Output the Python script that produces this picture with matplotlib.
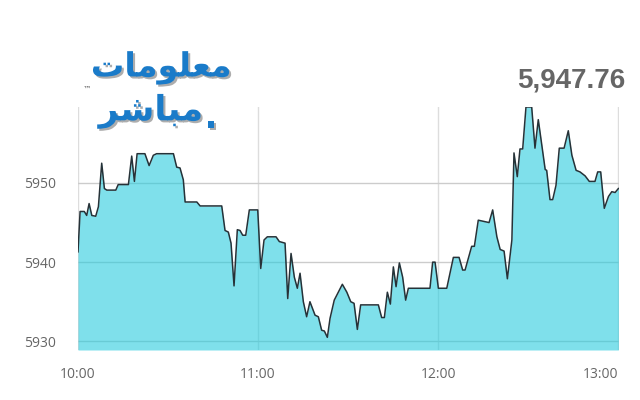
import matplotlib
matplotlib.use("Agg")
import matplotlib.pyplot as plt
import matplotlib.patheffects as pe

# minutes after 10:00
minutes = [0, 0.7, 2.1, 2.9, 3.7, 4.6, 5.9, 6.8, 7.9, 8.8, 9.6, 12.6, 13.4, 16.8,
           17.9, 18.8, 19.7, 22.3, 23.7, 25.1, 26.2, 31.8, 32.9, 34, 35.1, 35.7,
           39.6, 40.7, 47.9, 49, 50.1, 51, 52, 53.1, 54, 54.9, 55.9, 57.1, 59.9,
           60.9, 62, 63.1, 66, 67.1, 69, 69.9, 71, 72.1, 73.1, 74, 75.1, 76.2,
           77.3, 79, 80.1, 81.2, 82.1, 83.1, 84, 85.4, 88.1, 89.6, 90.9, 92,
           93.1, 94.2, 100.1, 101.2, 102.1, 103.1, 104.1, 105.1, 106, 107.1,
           108.2, 109.2, 110.1, 117.3, 118.2, 119, 120.1, 122.9, 125.1, 127,
           128.2, 129, 131.2, 132.1, 133.4, 134.6, 137, 138.2, 139.6, 140.7,
           142, 143.1, 144.6, 145.3, 146.4, 147.3, 148.2, 149.3, 151.2, 152.3,
           153.4, 155.7, 156.2, 157.3, 158.2, 159.3, 160.4, 162, 163.4, 164.6,
           166, 167.3, 169, 170.4, 172.3, 173.2, 174.2, 175.4, 176.8, 177.9,
           179, 180.1]
values = [5941.3, 5946.4, 5946.4, 5945.9, 5947.4, 5945.9, 5945.8, 5947.0, 5952.5,
          5949.3, 5949.1, 5949.1, 5949.8, 5949.8, 5953.4, 5950.2, 5953.7, 5953.7,
          5952.2, 5953.5, 5953.7, 5953.7, 5952.0, 5951.9, 5950.4, 5947.6, 5947.6,
          5947.1, 5947.1, 5944.0, 5943.8, 5942.4, 5937.0, 5944.1, 5944.0, 5943.4,
          5943.4, 5946.6, 5946.6, 5939.2, 5942.8, 5943.2, 5943.2, 5942.6, 5942.4,
          5935.4, 5941.1, 5938.1, 5936.7, 5938.6, 5935.0, 5933.1, 5935.0, 5933.3,
          5933.1, 5931.4, 5931.3, 5930.5, 5932.9, 5935.2, 5937.2, 5936.2, 5935.0,
          5934.8, 5931.5, 5934.6, 5934.6, 5933.0, 5933.0, 5936.2, 5934.7, 5939.4,
          5936.9, 5939.9, 5938.1, 5935.2, 5936.7, 5936.7, 5940.0, 5940.0, 5936.7,
          5936.7, 5940.6, 5940.6, 5939.0, 5939.0, 5942.0, 5942.0, 5945.3, 5945.2,
          5945.0, 5946.6, 5943.2, 5941.6, 5941.4, 5937.9, 5942.8, 5953.8, 5950.8,
          5954.3, 5954.3, 5959.6, 5959.6, 5954.4, 5958.0, 5951.7, 5951.6, 5947.9,
          5947.9, 5949.7, 5954.4, 5954.4, 5956.6, 5953.5, 5951.6, 5951.4, 5950.9,
          5950.2, 5950.2, 5951.4, 5951.4, 5946.8, 5948.3, 5948.9, 5948.8, 5949.3]

x_ticks = [0, 60, 120, 180]
x_labels = ["10:00", "11:00", "12:00", "13:00"]
y_ticks = [5930, 5940, 5950]
y_labels = ["5930", "5940", "5950"]
last_value = "5,947.76"
logo_top = "\uFE95\uFE8E\uFEE3\uFEEE\uFEE0\uFECC\uFEE3"   # معلومات (shaped, visual order)
logo_bottom = "\uFEAE\uFEB7\uFE8E\uFE92\uFEE3"            # مباشر (shaped, visual order)

fig = plt.figure(figsize=(6.4, 4.0), dpi=100)
ax = fig.add_axes([78 / 640, 1 - 350 / 400, (619 - 78) / 640, (350 - 107) / 400])
ymin, ymax = 5928.9, 5959.6
ax.set_xlim(0, 180.3)
ax.set_ylim(ymin, ymax)

for t in x_ticks:
    ax.axvline(t, color="#dddddd", lw=1.0, zorder=0)
for v in y_ticks:
    ax.axhline(v, color="#cccccc", lw=1.0, zorder=0)

ax.fill_between(minutes, values, ymin, color="#22cbdd", alpha=0.58, lw=0, zorder=1)
ax.plot(minutes, values, color="#263238", lw=1.1, zorder=2)

for s in ax.spines.values():
    s.set_visible(False)
ax.set_xticks(x_ticks)
ax.set_xticklabels(x_labels)
ax.set_yticks(y_ticks)
ax.set_yticklabels(y_labels)
ax.tick_params(length=0, colors="#666666", labelsize=10)
ax.tick_params(axis="x", pad=12)
ax.tick_params(axis="y", pad=16)
for lab in ax.get_xticklabels():
    lab.set_fontfamily("Open Sans")
for lab in ax.get_yticklabels():
    lab.set_fontfamily("Open Sans")
ax.get_xticklabels()[-1].set_horizontalalignment("right")

fig.text(625 / 640, 1 - 80 / 400, last_value, ha="right", va="center",
         fontsize=20, fontweight="bold", color="#666666", family="Liberation Sans")

shadow = [pe.withSimplePatchShadow(offset=(1.5, -1.5), shadow_rgbFace="#999999", alpha=0.8)]
fig.text(232 / 640, 1 - 68 / 400, logo_top, ha="right", va="center", fontsize=24,
         fontweight="bold", color="#1a7bc9", family="DejaVu Sans", path_effects=shadow)
fig.text(203 / 640, 1 - 111 / 400, logo_bottom, ha="right", va="center", fontsize=25,
         fontweight="bold", color="#1a7bc9", family="DejaVu Sans", path_effects=shadow)
fig.text(211 / 640, 1 - 118 / 400, ".", ha="center", va="center", fontsize=26,
         fontweight="bold", color="#1a7bc9", family="DejaVu Sans", path_effects=shadow)
fig.text(87 / 640, 1 - 89 / 400, "\u2122", ha="center", va="center", fontsize=6,
         color="#555555", family="DejaVu Sans")

fig.savefig("out.png", dpi=100, facecolor="white")
